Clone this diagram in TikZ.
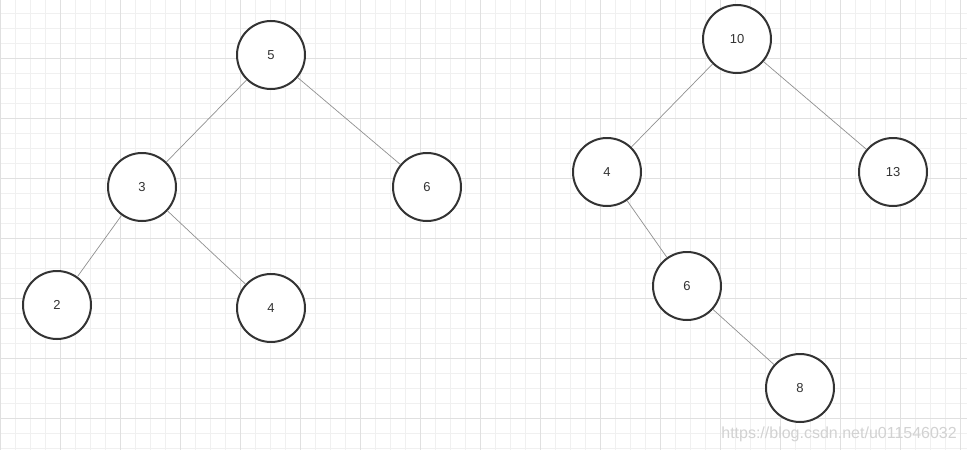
\documentclass[tikz,border=0pt]{standalone}
\usepackage{fontspec}
\setmainfont{Liberation Sans}
\definecolor{gridminor}{HTML}{F0F0F0}
\definecolor{gridmajor}{HTML}{E0E0E0}
\definecolor{ring}{HTML}{333333}
\definecolor{edgegray}{HTML}{909090}
\definecolor{markgray}{HTML}{D2D2D2}
\begin{document}
\begin{tikzpicture}[x=1pt,y=-1pt,
  treenode/.style={circle,draw=ring,line width=2pt,fill=white,minimum size=68pt,
    inner sep=0pt,text=ring,font=\fontsize{13}{15}\selectfont},
  treeedge/.style={draw=edgegray,line width=0.7pt}]
\useasboundingbox (0,0) rectangle (967,450);
\fill[white] (0,0) rectangle (967,450);
% grid paper
\foreach \gx in {0,15,...,960}
  \draw[gridminor,line width=1pt] (\gx,0) -- (\gx,450);
\foreach \gy in {13,28,...,448}
  \draw[gridminor,line width=1pt] (0,\gy) -- (967,\gy);
\foreach \gx in {0,60,...,960}
  \draw[gridmajor,line width=1pt] (\gx,0) -- (\gx,450);
\foreach \gy in {58,118,...,418}
  \draw[gridmajor,line width=1pt] (0,\gy) -- (967,\gy);
% left tree
\node[treenode] (n5) at (271,55) {5};
\node[treenode] (n3) at (142,187) {3};
\node[treenode] (n6) at (427,187) {6};
\node[treenode] (n2) at (57,305) {2};
\node[treenode] (n4) at (271,308) {4};
% right tree
\node[treenode] (m10) at (737,39) {10};
\node[treenode] (m4) at (607,172) {4};
\node[treenode] (m13) at (893,172) {13};
\node[treenode] (m6) at (687,286) {6};
\node[treenode] (m8) at (800,388) {8};
% edges
\draw[treeedge] (n5) -- (n3);
\draw[treeedge] (n5) -- (n6);
\draw[treeedge] (n3) -- (n2);
\draw[treeedge] (n3) -- (n4);
\draw[treeedge] (m10) -- (m4);
\draw[treeedge] (m10) -- (m13);
\draw[treeedge] (m4) -- (m6);
\draw[treeedge] (m6) -- (m8);
% watermark
\node[anchor=base east,text=markgray,inner sep=0pt,
  font=\fontsize{16}{19}\selectfont] (mark) at (957,438) {https://blog.csdn.net/u011546032};
\end{tikzpicture}
\end{document}
